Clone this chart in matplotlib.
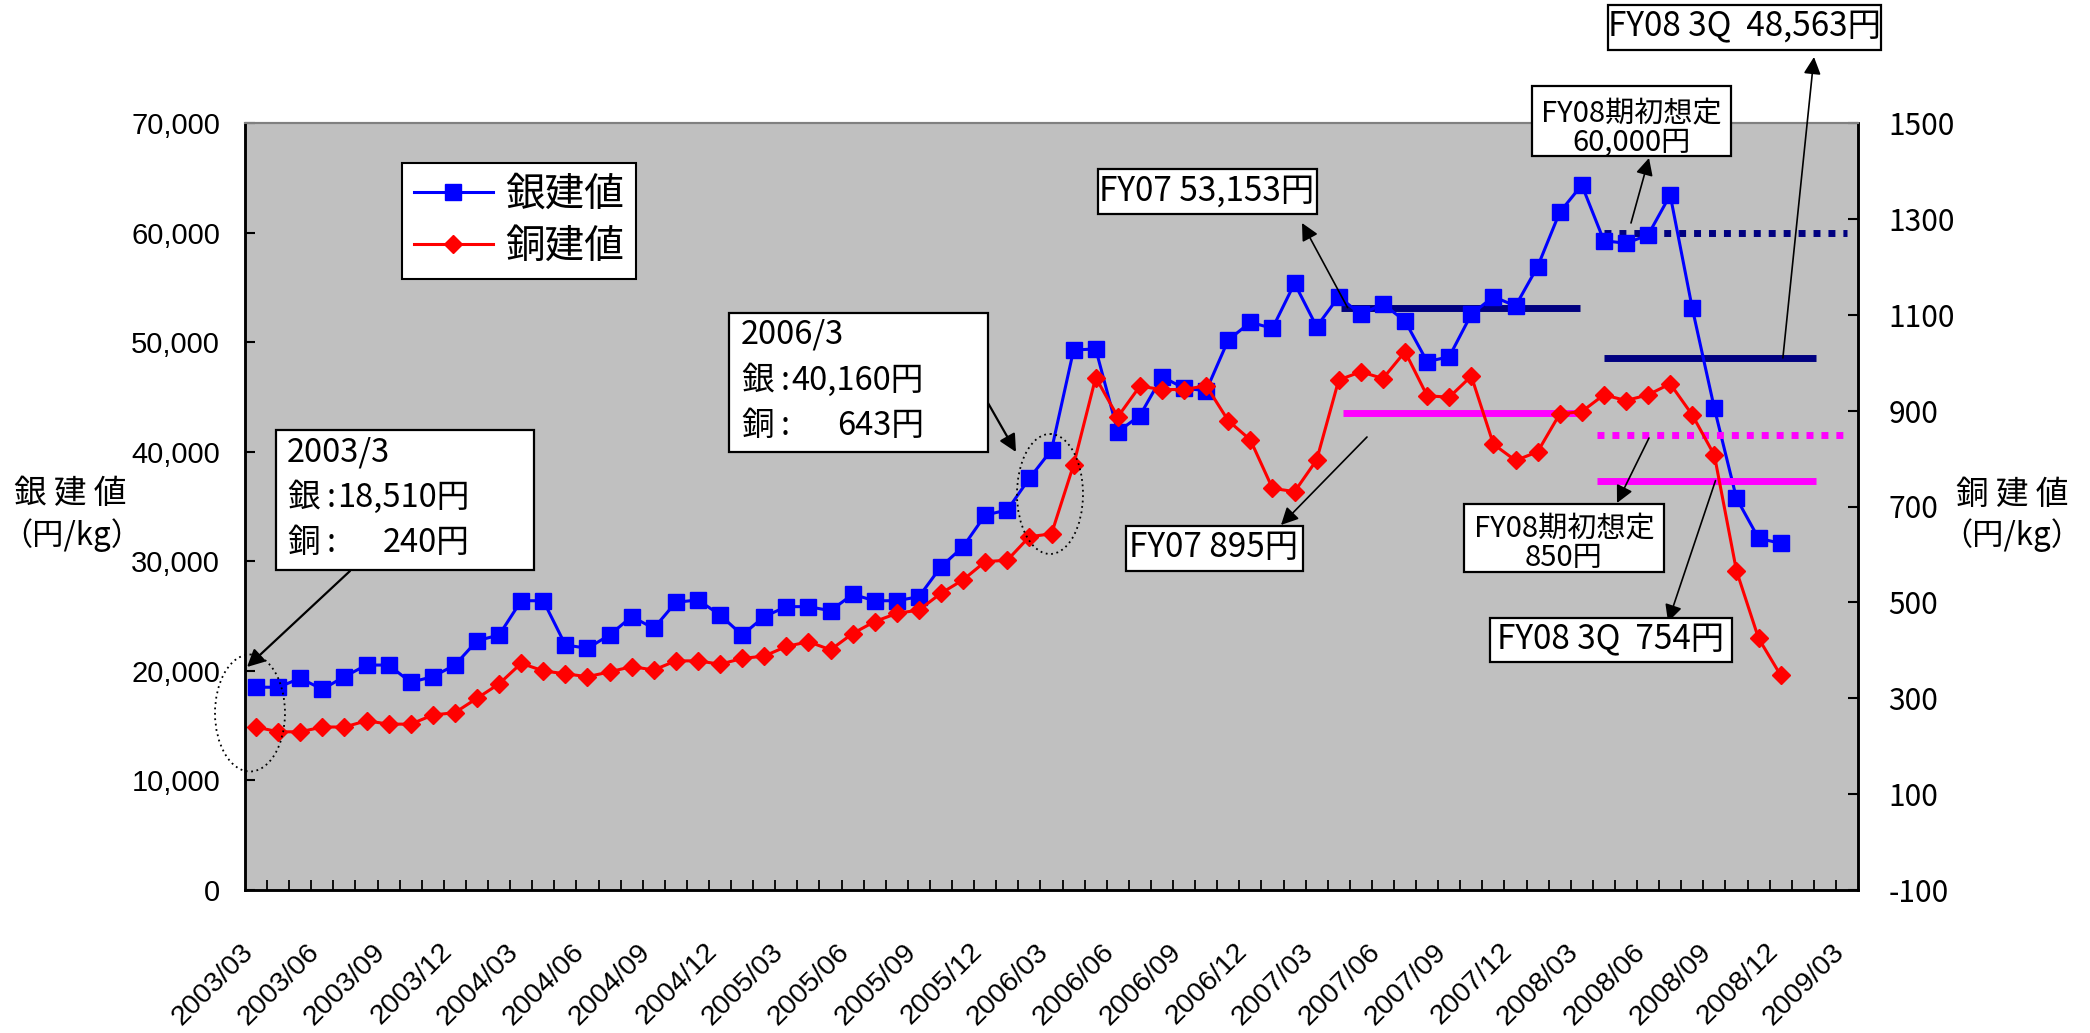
import numpy as np
import matplotlib
matplotlib.use('Agg')
import matplotlib.pyplot as plt
from matplotlib.patches import Ellipse, Rectangle
from matplotlib.transforms import Affine2D, ScaledTranslation

plt.rcParams['font.family'] = ['Noto Sans CJK JP', 'DejaVu Sans']

W, H = 2090, 1033

# 月次建値 2003/03 - 2008/12（円/kg）
silver = [18510, 18500, 19320, 18320, 19470, 20530, 20530, 18960, 19470, 20530,
          22750, 23270, 26400, 26400, 22360, 22060, 23270, 24950, 23880, 26260,
          26470, 25100, 23270, 24950, 25860, 25860, 25490, 26980, 26400, 26400,
          26770, 29510, 31330, 34220, 34680, 37570, 40160, 49280, 49380, 41830,
          43290, 46850, 45790, 45570, 50200, 51810, 51260, 55370, 51410, 54150,
          52540, 53480, 51930, 48220, 48670, 52540, 54150, 53300, 56890, 61850,
          64340, 59260, 59020, 59780, 63430, 53090, 43960, 35750, 32100, 31640]
copper = [240, 230, 230, 240, 240, 253, 246, 246, 265, 270,
          300, 330, 373, 357, 351, 345, 355, 366, 359, 378,
          378, 371, 383, 388, 408, 418, 401, 435, 460, 477,
          484, 519, 547, 585, 588, 637, 643, 787, 969, 887,
          951, 944, 944, 952, 879, 839, 738, 731, 797, 964,
          981, 967, 1023, 931, 928, 972, 830, 796, 814, 893,
          898, 933, 921, 933, 956, 891, 807, 566, 425, 348]

n_months = 73  # 2003/03 - 2009/03
month_labels = ['2003/03', '2003/06', '2003/09', '2003/12', '2004/03', '2004/06',
                '2004/09', '2004/12', '2005/03', '2005/06', '2005/09', '2005/12',
                '2006/03', '2006/06', '2006/09', '2006/12', '2007/03', '2007/06',
                '2007/09', '2007/12', '2008/03', '2008/06', '2008/09', '2008/12',
                '2009/03']

# 年度平均・期初想定
silver_fy07 = 53153
silver_fy08_plan = 60000
silver_fy08_3q = 48563
copper_fy07 = 895
copper_fy08_plan = 850
copper_fy08_3q = 754

x = np.arange(len(silver))

fig = plt.figure(figsize=(W / 100, H / 100), dpi=100)
ax = fig.add_axes([245 / W, 1 - 890 / H, (1858 - 245) / W, (890 - 123) / H])
ax.set_facecolor('#c0c0c0')
ax2 = ax.twinx()

# 画素座標（左上原点）
pix = Affine2D().scale(1, -1).translate(0, H)

# 年度ライン
ax.plot([49.1, 59.9], [silver_fy07] * 2, color='#000080', lw=5, solid_capstyle='butt', zorder=1)
ax.plot([61.0, 72.0], [silver_fy08_plan] * 2, color='#000080', lw=5,
        ls=(0, (1, 1.15)), dash_capstyle='butt', zorder=1)
ax.plot([61.0, 70.6], [silver_fy08_3q] * 2, color='#000080', lw=5, solid_capstyle='butt', zorder=1)
ax2.plot([49.2, 60.0], [copper_fy07] * 2, color='#ff00ff', lw=5, solid_capstyle='butt', zorder=1)
ax2.plot([60.7, 72.0], [copper_fy08_plan] * 2, color='#ff00ff', lw=5,
         ls=(0, (1, 1.15)), dash_capstyle='butt', zorder=1)
ax2.plot([60.7, 70.6], [copper_fy08_3q] * 2, color='#ff00ff', lw=5, solid_capstyle='butt', zorder=1)

l1, = ax.plot(x, silver, color='#0000ff', lw=2.2, marker='s', ms=11, mec='#0000ff', zorder=3)
l2, = ax2.plot(x, copper, color='#ff0000', lw=2.2, marker='D', ms=9.5, mec='#ff0000', zorder=3)

ax.set_xlim(-0.5, n_months - 0.5)
ax.set_ylim(0, 70000)
ax2.set_ylim(-100, 1500)

ax.set_yticks(np.arange(0, 70001, 10000))
ax.set_yticklabels([f'{v:,}' for v in range(0, 70001, 10000)], fontfamily='Liberation Sans', fontsize=21)
ax2.set_yticks(np.arange(-100, 1501, 200))
ax2.set_yticklabels([str(v) for v in range(-100, 1501, 200)], fontsize=21.5)

ax.set_xticks(np.arange(0, n_months, 3))
ax.set_xticklabels(month_labels, rotation=45, ha='right', va='top', rotation_mode='anchor',
                   fontfamily='Liberation Sans', fontsize=20.5)
ax.set_xticks(np.arange(0.5, n_months - 1, 1), minor=True)
ax.tick_params(axis='x', which='major', length=0, pad=35)
ax.tick_params(axis='x', which='minor', direction='in', length=7, width=1.3, color='black')
ax.tick_params(axis='y', direction='in', length=7.5, width=1.5, pad=18)
ax2.tick_params(axis='y', direction='in', length=7.5, width=1.5, pad=22)
shift = ScaledTranslation(-16 / 100, 0, fig.dpi_scale_trans)
for lab in ax.get_xticklabels():
    lab.set_transform(lab.get_transform() + shift)

for a in (ax, ax2):
    for side in ('left', 'bottom', 'right'):
        a.spines[side].set_color('black')
        a.spines[side].set_linewidth(1.8)
    a.spines['top'].set_color('#808080')
    a.spines['top'].set_linewidth(1.5)

# 軸タイトル
fig.text(70, 494, '銀 建 値', transform=pix, ha='center', va='center', fontsize=23.5)
fig.text(72, 535, '（円/kg）', transform=pix, ha='center', va='center', fontsize=22.5)
fig.text(2012, 495, '銅 建 値', transform=pix, ha='center', va='center', fontsize=23.5)
fig.text(2012, 535, '（円/kg）', transform=pix, ha='center', va='center', fontsize=22.5)

# 凡例
leg = ax.legend([l1, l2], ['銀建値', '銅建値'], loc='upper left',
                bbox_to_anchor=(402 / W, 1 - 163 / H), bbox_transform=fig.transFigure,
                borderaxespad=0, fontsize=28.5, handlelength=2.0, handletextpad=0.3,
                labelspacing=0.3, borderpad=0.3, fancybox=False, framealpha=1)
leg.get_frame().set_edgecolor('black')
leg.get_frame().set_linewidth(1.5)


def box(x0, y0, x1, y1):
    fig.add_artist(Rectangle((x0, y0), x1 - x0, y1 - y0, transform=pix,
                             fc='white', ec='black', lw=1.6, zorder=4))


def label(x0, y0, s, size=23.5, ha='left'):
    fig.text(x0, y0, s, transform=pix, ha=ha, va='center', fontsize=size, zorder=5)


def arrow(head, tail, tail_coords=pix, lw=1.2):
    ax2.annotate('', xy=head, xycoords=pix, xytext=tail, textcoords=tail_coords,
                 annotation_clip=False,
                 arrowprops=dict(arrowstyle='-|>', color='black', lw=lw,
                                 mutation_scale=26, shrinkA=0, shrinkB=0))


def price_note(x0, x_num, y0, when, ag, cu):
    label(x0, y0, when)
    for dy, metal, val in ((46, '銀', ag), (91, '銅', cu)):
        label(x0, y0 + dy, metal)
        label(x0 + 44, y0 + dy, ':', ha='center')
        label(x_num, y0 + dy, val, ha='right')


# 2003/3 の注記
box(276, 430, 534, 570)
price_note(287, 470, 452, '2003/3', '18,510円', '240円')
arrow((247, 667), (350, 571), lw=1.6)

# 2006/3 の注記
box(729, 313, 988, 452)
price_note(741, 924, 335, '2006/3', '40,160円', '643円')
arrow((1016, 452), (988, 403), lw=1.6)

for cx, cy, w, h in ((250, 713, 70, 117), (1050, 494, 66, 120)):
    fig.add_artist(Ellipse((cx, cy), w, h, transform=pix, fill=False, ec='black',
                           lw=1.3, ls=(0, (1, 2)), zorder=3))

# 年度の注記
box(1098, 169, 1317, 214)
label(1207, 191, 'FY07 53,153円', size=24, ha='center')
arrow((1302, 223), (49.4, silver_fy07), tail_coords=ax.transData)

box(1126, 526, 1303, 571)
label(1214, 548, 'FY07 895円', size=24, ha='center')
arrow((1281, 525), (1367, 437))

box(1532, 86, 1731, 156)
label(1631, 113, 'FY08期初想定', size=21, ha='center')
label(1631, 143, '60,000円', size=21, ha='center')
arrow((1649, 158), (1631, 223))

box(1608, 5, 1881, 50)
label(1744, 27, 'FY08 3Q  48,563円', size=24, ha='center')
arrow((1814, 57), (69.1, silver_fy08_3q), tail_coords=ax.transData)

box(1464, 504, 1664, 572)
label(1564, 528, 'FY08期初想定', size=21, ha='center')
label(1564, 558, '850円', size=21, ha='center')
arrow((1617, 503), (1649, 438))

box(1490, 618, 1732, 662)
label(1611, 640, 'FY08 3Q  754円', size=24, ha='center')
arrow((1668, 622), (66.05, copper_fy08_3q), tail_coords=ax2.transData)

fig.savefig('out.png', dpi=100)
